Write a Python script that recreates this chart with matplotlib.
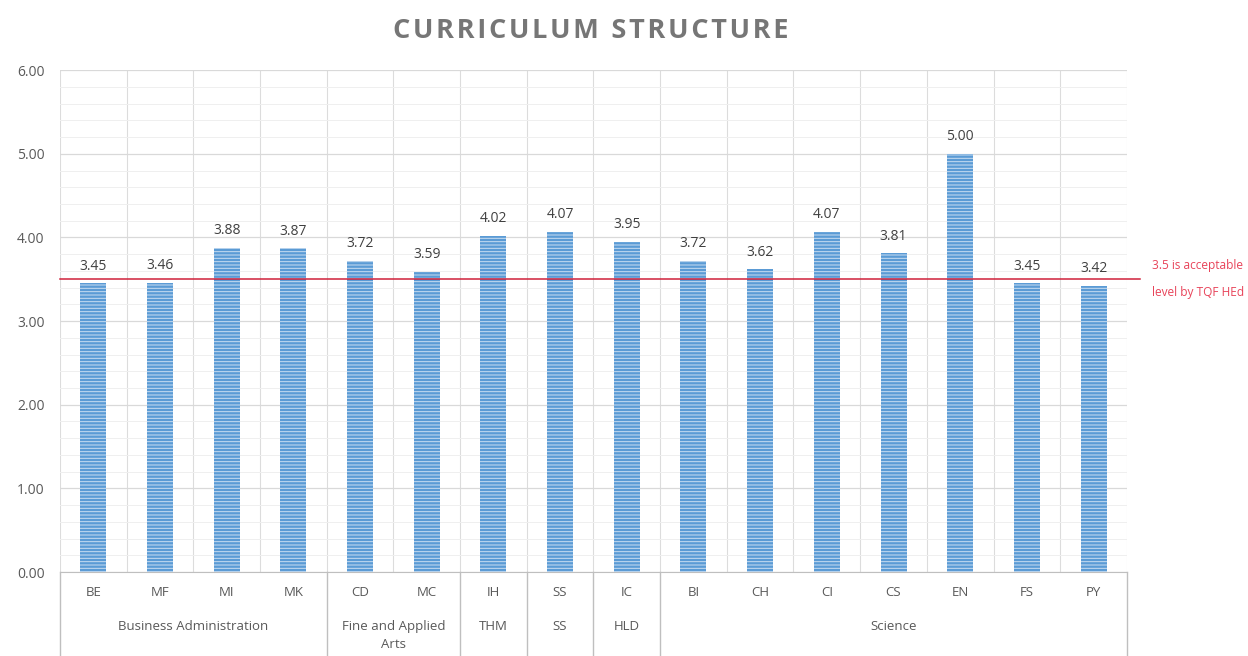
import matplotlib
matplotlib.use("Agg")
import matplotlib.pyplot as plt
import matplotlib.transforms as mtransforms
import numpy as np

plt.rcParams['font.family'] = ['Open Sans', 'DejaVu Sans']
plt.rcParams['hatch.linewidth'] = 0.7

codes = ["BE", "MF", "MI", "MK", "CD", "MC", "IH", "SS", "IC",
         "BI", "CH", "CI", "CS", "EN", "FS", "PY"]
values = [3.45, 3.46, 3.88, 3.87, 3.72, 3.59, 4.02, 4.07, 3.95,
          3.72, 3.62, 4.07, 3.81, 5.00, 3.45, 3.42]
groups = ["Business Administration", "Fine and Applied\nArts", "THM", "SS", "HLD", "Science"]
group_sizes = [4, 2, 1, 1, 1, 7]
threshold = 3.5
threshold_label = "3.5 is acceptable\nlevel by TQF HEd"
title = "CURRICULUM STRUCTURE"

fig = plt.figure(figsize=(12.48, 6.56), dpi=100)
ax = fig.add_axes([0.048, 0.128, 0.855, 0.765])

x = np.arange(len(codes))
bars = ax.bar(x, values, width=0.39, color='#5B9BD5', edgecolor='#C9DEF2',
              hatch='-----', linewidth=0, zorder=3)

ax.set_xlim(-0.5, len(codes) - 0.5)
ax.set_ylim(0, 6)
ax.set_yticks(np.arange(0, 6.01, 1.0))
ax.set_yticklabels([f"{v:.2f}" for v in np.arange(0, 6.01, 1.0)], color='#595959', fontsize=10)
ax.set_yticks(np.arange(0, 6.01, 0.2), minor=True)
ax.grid(axis='y', which='major', color='#D9D9D9', linewidth=0.9, zorder=0)
ax.grid(axis='y', which='minor', color='#EFEFEF', linewidth=0.7, zorder=0)
for b in np.arange(-0.5, len(codes), 1.0):
    ax.axvline(b, color='#DCDCDC', linewidth=0.8, zorder=1)
ax.tick_params(axis='both', which='both', length=0)
ax.tick_params(axis='y', pad=11)
ax.set_xticks([])
for s in ['top', 'right', 'left']:
    ax.spines[s].set_visible(False)
ax.spines['bottom'].set_color('#BFBFBF')

for xi, v in zip(x, values):
    ax.annotate(f"{v:.2f}", (xi, v), xytext=(0, 7), textcoords='offset points',
                ha='center', va='bottom', fontsize=10, color='#404040')

# threshold line
ax.plot([-0.5, len(codes) - 0.5 + 0.2], [threshold, threshold], color='#D0213A',
        linewidth=1.1, clip_on=False, zorder=4)
ax.text(len(codes) - 0.5 + 0.38, threshold, threshold_label, ha='left', va='center',
        fontsize=8.6, color='#E8445A', linespacing=2.4)

trans = mtransforms.blended_transform_factory(ax.transData, ax.transAxes)
for xi, c in zip(x, codes):
    ax.text(xi, -0.04, c, transform=trans, ha='center', va='center', fontsize=9.5, color='#595959')

bounds = np.concatenate([[0], np.cumsum(group_sizes)]) - 0.5
for bx in bounds:
    ax.plot([bx, bx], [0, -0.168], transform=trans, color='#BFBFBF', linewidth=1.0, clip_on=False)
for i, g in enumerate(groups):
    cx = (bounds[i] + bounds[i + 1]) / 2
    ax.text(cx, -0.095, g, transform=trans, ha='center', va='top', fontsize=9.5,
            color='#595959', linespacing=1.5)

spaced_title = "\u200a".join(title)
fig.text(0.473, 0.953, spaced_title, ha='center', va='center', fontsize=19.5, fontweight='bold',
         color='#767676')

fig.savefig('out.png', dpi=100)
